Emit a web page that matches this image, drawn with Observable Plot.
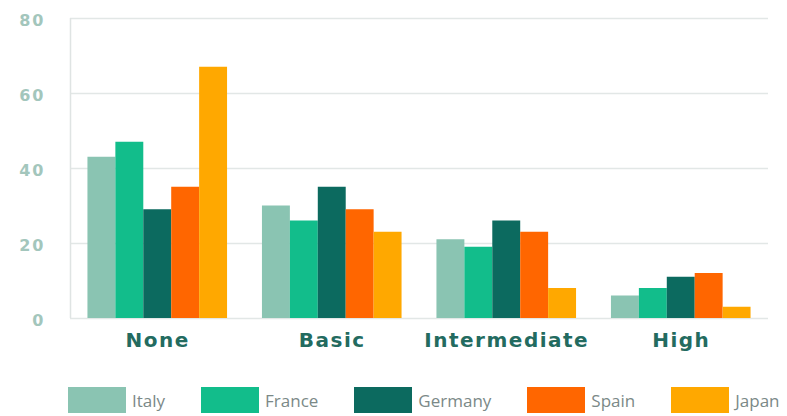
<!DOCTYPE html>
<html>
<head>
<meta charset="utf-8">
<script src="https://cdn.jsdelivr.net/npm/d3@7"></script>
<script src="https://cdn.jsdelivr.net/npm/@observablehq/plot@0.6"></script>
<style>
  html, body { margin: 0; padding: 0; background: #ffffff; }
  #wrap { width: 787px; height: 416px; position: relative; overflow: hidden; }
  #plots { position: relative; width: 787px; height: 370px; }
  #plots svg { position: absolute; left: 0; top: 0; }
  .chart g[aria-label="fx-axis tick label"] text { letter-spacing: 1.5px; }
  .bg g[aria-label="y-axis tick label"] text { letter-spacing: 2px; }
  #legend { display: flex; align-items: center; margin-top: 17px; padding-left: 68px;
    font-family: "Open Sans", sans-serif; font-weight: 400; font-size: 17px; color: #7b8987; white-space: nowrap; }
  #legend .item { display: flex; align-items: center; margin-right: 36px; }
  #legend .sw { width: 58px; height: 26px; margin-right: 6px; }
</style>
</head>
<body>
<div id="wrap"><div id="plots"></div></div>
<script>
const levels = ["None", "Basic", "Intermediate", "High"];
const countries = ["Italy", "France", "Germany", "Spain", "Japan"];
const colors = ["#8ac4b2", "#12bd8b", "#0c6a5f", "#ff6600", "#ffa800"];
const italy = [43, 30, 21, 6];
const france = [47, 26, 19, 8];
const germany = [29, 35, 26, 11];
const spain = [35, 29, 23, 12];
const japan = [67, 23, 8, 3];
const yTicks = [0, 20, 40, 60, 80];

const series = [italy, france, germany, spain, japan];
const data = levels.flatMap((l, i) => countries.map((c, j) => ({level: l, country: c, value: series[j][i]})));

const frameOpts = {
  width: 787,
  height: 370,
  marginTop: 18,
  marginBottom: 52,
  marginLeft: 70,
  marginRight: 19
};

// background layer: grid, left line, y axis
const bg = Plot.plot({
  ...frameOpts,
  className: "bg",
  style: {fontFamily: "DejaVu Sans, sans-serif", background: "#ffffff"},
  x: {domain: [0, 1], axis: null},
  y: {domain: [0, 80], axis: null},
  marks: [
    Plot.ruleY(yTicks, {stroke: "#e2e7e6", strokeWidth: 1.5}),
    Plot.ruleX([0], {stroke: "#dfe4e3", strokeWidth: 1.5}),
    Plot.axisY(yTicks, {tickSize: 0, tickPadding: 25, fontSize: 16, fontWeight: 700, fill: "#a3c6bc", dy: 2})
  ]
});

// foreground layer: bars and category labels
const chart = Plot.plot({
  ...frameOpts,
  className: "chart",
  style: {fontFamily: "DejaVu Sans, sans-serif", background: "transparent"},
  fx: {domain: levels, paddingInner: 0.2, paddingOuter: 0.1, round: false, label: null},
  x: {domain: countries, padding: 0, round: false, axis: null},
  y: {domain: [0, 80], axis: null},
  color: {domain: countries, range: colors},
  marks: [
    Plot.barY(data, {fx: "level", x: "country", y: "value", fill: "country"}),
    Plot.axisFx({anchor: "bottom", tickSize: 0, tickPadding: 14, fontSize: 20, fontWeight: 700, fill: "#236b60", label: null})
  ]
});

const plots = document.getElementById("plots");
plots.appendChild(bg);
plots.appendChild(chart);

const legend = document.createElement("div");
legend.id = "legend";
countries.forEach((c, i) => {
  const item = document.createElement("div");
  item.className = "item";
  const sw = document.createElement("div");
  sw.className = "sw";
  sw.style.background = colors[i];
  const t = document.createElement("span");
  t.textContent = c;
  item.appendChild(sw);
  item.appendChild(t);
  legend.appendChild(item);
});
document.getElementById("wrap").appendChild(legend);
</script>
</body>
</html>
